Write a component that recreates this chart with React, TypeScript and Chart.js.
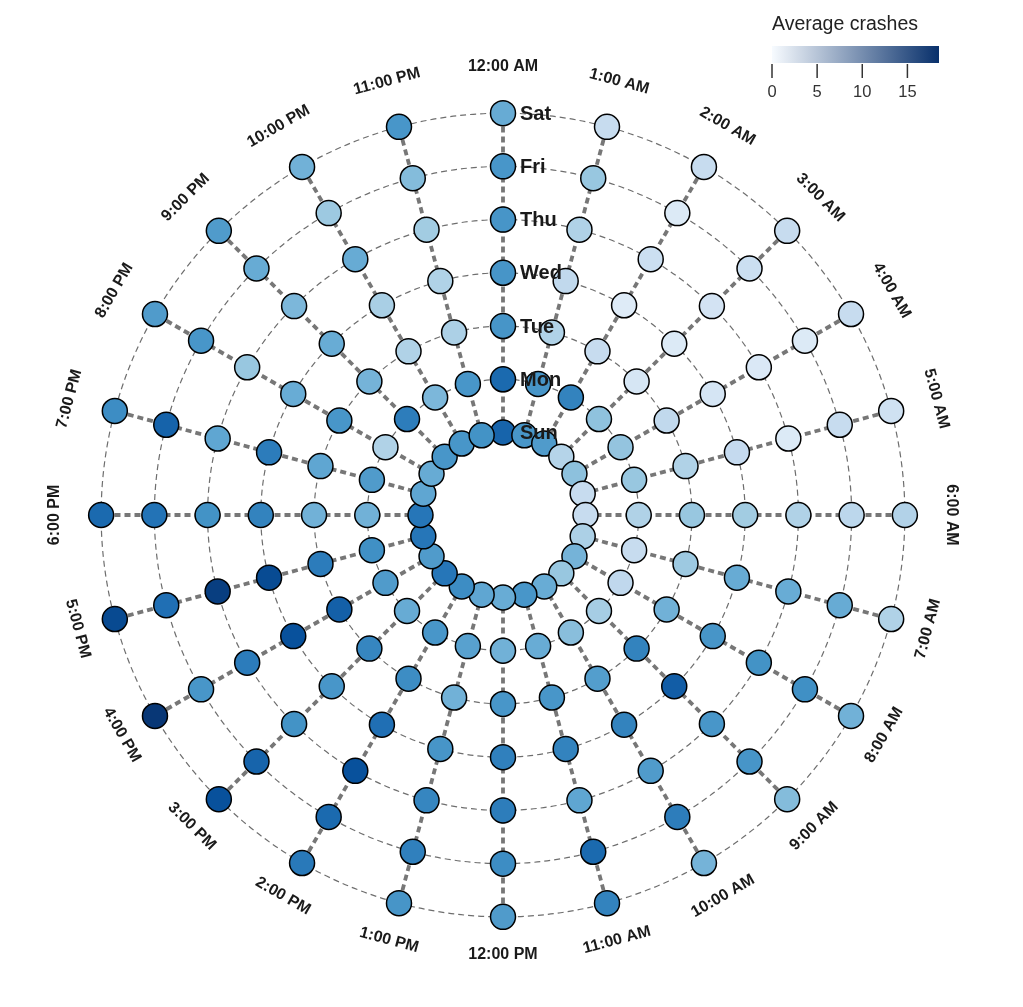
import { useEffect, useRef } from "react";
import { Chart, registerables } from "chart.js";

Chart.register(...registerables);

const hours = [
  "12:00 AM", "1:00 AM", "2:00 AM", "3:00 AM", "4:00 AM", "5:00 AM",
  "6:00 AM", "7:00 AM", "8:00 AM", "9:00 AM", "10:00 AM", "11:00 AM",
  "12:00 PM", "1:00 PM", "2:00 PM", "3:00 PM", "4:00 PM", "5:00 PM",
  "6:00 PM", "7:00 PM", "8:00 PM", "9:00 PM", "10:00 PM", "11:00 PM",
];
const days = ["Sun", "Mon", "Tue", "Wed", "Thu", "Fri", "Sat"];

// average crashes per hour (12 AM .. 11 PM), one list per day
const sun = [14.8, 11.2, 10.8, 5.6, 7.7, 4.5, 4.5, 6.1, 8.8, 7.2, 9.4, 11.2, 9.4, 9.9, 11.9, 13.5, 10.8, 13.5, 13.5, 9.9, 9.5, 11.2, 11.2, 11.5];
const mon = [14.4, 11.3, 12.6, 7.6, 7.4, 7.2, 5.9, 4.5, 5.0, 6.5, 7.9, 9.4, 9.0, 10.3, 11.2, 9.5, 10.8, 11.7, 9.0, 10.8, 5.9, 13.0, 8.5, 11.2];
const tue = [11.3, 5.9, 4.5, 3.1, 4.9, 5.9, 7.2, 7.0, 9.0, 12.6, 10.6, 11.2, 11.2, 9.0, 11.9, 12.4, 15.1, 13.1, 9.0, 9.9, 11.2, 8.8, 5.9, 6.1];
const wed = [11.3, 4.9, 2.3, 2.5, 3.2, 4.7, 6.7, 9.5, 11.3, 15.3, 12.6, 12.6, 12.8, 11.3, 14.0, 11.2, 16.2, 16.6, 12.6, 13.1, 9.4, 9.4, 6.3, 5.9];
const thu = [11.3, 5.9, 4.1, 3.4, 2.7, 2.5, 5.9, 9.4, 11.5, 11.2, 10.8, 9.9, 13.0, 12.4, 16.2, 11.5, 13.1, 17.5, 11.5, 9.9, 7.2, 8.5, 9.5, 6.7];
const fri = [11.2, 7.2, 2.5, 4.1, 2.5, 4.5, 5.2, 9.5, 11.7, 11.3, 13.0, 14.4, 11.9, 12.8, 14.4, 14.8, 11.2, 14.0, 13.7, 14.9, 11.2, 9.5, 7.0, 8.1];
const sat = [9.5, 4.5, 4.5, 4.5, 4.5, 3.8, 5.8, 5.9, 9.0, 8.1, 8.8, 12.6, 10.8, 11.3, 13.3, 16.2, 18.0, 16.7, 14.4, 11.9, 10.8, 10.8, 9.0, 11.2];
const crashesByDay = [sun, mon, tue, wed, thu, fri, sat];

const legendTicks = [0, 5, 10, 15];
const COLOR_MAX = 18.5;

// radial layout: ring j sits at RING_OFFSET + j on the r scale
const RING_OFFSET = 1.55;
const R_MAX = 8.83;

const FONT = "'Liberation Sans', Arial, Helvetica, sans-serif";

const BLUES = ["#f7fbff", "#deebf7", "#c6dbef", "#9ecae1", "#6baed6", "#4292c6", "#2171b5", "#08519c", "#08306b"];

const hexRgb = (h: string) => [1, 3, 5].map((k) => parseInt(h.slice(k, k + 2), 16));

const blues = (t: number) => {
  const c = Math.min(1, Math.max(0, t)) * (BLUES.length - 1);
  const i = Math.min(BLUES.length - 2, Math.floor(c));
  const f = c - i;
  const a = hexRgb(BLUES[i]);
  const b = hexRgb(BLUES[i + 1]);
  const m = a.map((v, k) => Math.round(v + (b[k] - v) * f));
  return `rgb(${m[0]}, ${m[1]}, ${m[2]})`;
};

// thick dashed spokes joining the rings along each hour
const spokesPlugin = {
  id: "spokes",
  beforeDatasetsDraw(chart: any) {
    const scale = chart.scales.r;
    const ctx = chart.ctx;
    ctx.save();
    ctx.strokeStyle = "#777777";
    ctx.lineWidth = 3.8;
    ctx.setLineDash([6, 4]);
    hours.forEach((_, i) => {
      const a = scale.getPointPositionForValue(i, RING_OFFSET);
      const b = scale.getPointPositionForValue(i, RING_OFFSET + days.length - 1);
      ctx.beginPath();
      ctx.moveTo(a.x, a.y);
      ctx.lineTo(b.x, b.y);
      ctx.stroke();
    });
    ctx.restore();
  },
};

// day names, rotated hour labels and the colour legend
const labelsPlugin = {
  id: "labels",
  afterDatasetsDraw(chart: any) {
    const scale = chart.scales.r;
    const ctx = chart.ctx;
    ctx.save();

    ctx.fillStyle = "#1a1a1a";
    ctx.font = `bold 20px ${FONT}`;
    ctx.textAlign = "left";
    ctx.textBaseline = "middle";
    days.forEach((d, j) => {
      const p = scale.getPointPositionForValue(0, RING_OFFSET + j);
      ctx.fillText(d, p.x + 17, p.y + 1);
    });

    ctx.font = `bold 16px ${FONT}`;
    ctx.textAlign = "center";
    ctx.textBaseline = "alphabetic";
    hours.forEach((h, i) => {
      const deg = (i * 360) / hours.length;
      const rot = deg > 90 && deg < 270 ? deg - 180 : deg;
      const p = scale.getPointPositionForValue(i, RING_OFFSET + days.length - 1 + 0.8);
      ctx.save();
      ctx.translate(p.x, p.y);
      ctx.rotate((rot * Math.PI) / 180);
      ctx.fillText(h, 0, 0);
      ctx.restore();
    });

    // legend
    const x0 = 764;
    const x1 = 931;
    const y0 = 38;
    const y1 = 55;
    ctx.fillStyle = "#222222";
    ctx.font = `19.5px ${FONT}`;
    ctx.textAlign = "left";
    ctx.fillText("Average crashes", x0, 22);

    const g = ctx.createLinearGradient(x0, 0, x1, 0);
    g.addColorStop(0, "#f7fbff");
    g.addColorStop(1, "#08306b");
    ctx.fillStyle = g;
    ctx.fillRect(x0, y0, x1 - x0, y1 - y0);

    ctx.strokeStyle = "#333333";
    ctx.lineWidth = 1.5;
    ctx.fillStyle = "#333333";
    ctx.font = `16.5px ${FONT}`;
    ctx.textAlign = "center";
    legendTicks.forEach((v) => {
      const x = x0 + (v / COLOR_MAX) * (x1 - x0);
      ctx.beginPath();
      ctx.moveTo(x, y1 + 1);
      ctx.lineTo(x, y1 + 15);
      ctx.stroke();
      ctx.fillText(String(v), x, y1 + 34);
    });

    ctx.restore();
  },
};

const CrashClock = () => {
  const canvasRef = useRef<HTMLCanvasElement>(null);

  useEffect(() => {
    if (!canvasRef.current) return;

    const chart = new Chart(canvasRef.current, {
      type: "radar",
      data: {
        labels: hours,
        datasets: days.map((day, j) => ({
          label: day,
          data: hours.map(() => RING_OFFSET + j),
          showLine: false,
          fill: false,
          borderWidth: 0,
          backgroundColor: "transparent",
          pointRadius: 12.5,
          pointBorderWidth: 1.5,
          pointBorderColor: "#000000",
          pointBackgroundColor: crashesByDay[j].map((v) => blues(v / COLOR_MAX)),
        })),
      },
      options: {
        animation: false,
        responsive: true,
        maintainAspectRatio: false,
        events: [],
        layout: { padding: { left: 25, right: 42, top: 37, bottom: 14 } },
        plugins: {
          legend: { display: false },
          tooltip: { enabled: false },
        },
        scales: {
          r: {
            min: 0,
            max: R_MAX,
            ticks: { display: false },
            pointLabels: { display: false },
            angleLines: { display: false },
            grid: { circular: true, color: "#6e6e6e", lineWidth: 1.2 },
            border: { dash: [6, 4] },
            afterBuildTicks: (axis: any) => {
              axis.ticks = [0, ...days.map((_, j) => RING_OFFSET + j)].map((value) => ({ value }));
            },
          },
        },
      },
      plugins: [spokesPlugin, labelsPlugin],
    } as any);

    return () => {
      chart.destroy();
    };
  }, []);

  return (
    <div style={{ position: "relative", width: 1007, height: 991 }}>
      <canvas ref={canvasRef}></canvas>
    </div>
  );
};

export default function App() {
  return <CrashClock />;
}
